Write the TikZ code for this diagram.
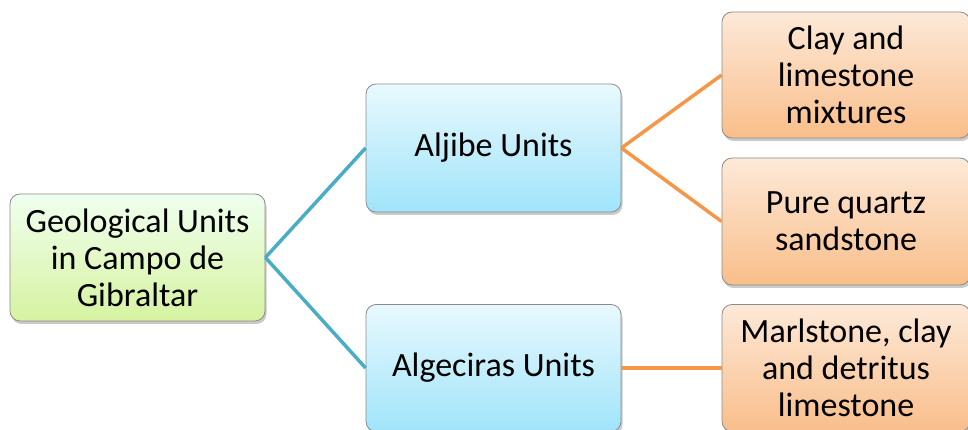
\documentclass[tikz,border=0pt]{standalone}
\usepackage{fontspec}
\setmainfont{Carlito}
\usetikzlibrary{shadows}
\definecolor{lineblue}{HTML}{4BACC6}
\definecolor{lineorange}{HTML}{F79646}
\definecolor{boxborder}{HTML}{8C8C8C}
\tikzset{
  box/.style={draw=boxborder, line width=0.8pt, rounded corners=10pt, align=center,
    font=\fontsize{34}{37}\selectfont, inner sep=0pt,
    drop shadow={shadow xshift=1.5pt, shadow yshift=-3pt, opacity=0.35, fill=black!60}},
  greenbox/.style={box, top color=green!6!white, bottom color={rgb,255:red,214;green,243;blue,160}},
  bluebox/.style={box, top color={rgb,255:red,232;green,249;blue,254}, bottom color={rgb,255:red,160;green,228;blue,250}},
  orangebox/.style={box, top color={rgb,255:red,253;green,233;blue,216}, bottom color={rgb,255:red,249;green,190;blue,138}},
  bluelink/.style={draw=lineblue, line width=3.5pt},
  orangelink/.style={draw=lineorange, line width=3.5pt}
}
\begin{document}
\begin{tikzpicture}[x=1pt,y=1pt]
\useasboundingbox (0,0) rectangle (968,430);
\begin{scope}
\clip (0,0) rectangle (968,430);
\node[greenbox, minimum width=255pt, minimum height=127pt] (root) at (137.5,172.5) {Geological Units\\in Campo de\\Gibraltar};
\node[bluebox, minimum width=255pt, minimum height=128pt] (aljibe) at (493.5,282) {Aljibe Units};
\node[bluebox, minimum width=255pt, minimum height=127pt] (alge) at (493.5,62) {Algeciras Units};
\node[orangebox, minimum width=248pt, minimum height=126pt] (clay) at (846,355) {Clay and\\limestone\\mixtures};
\node[orangebox, minimum width=248pt, minimum height=127pt] (pure) at (846,208.5) {Pure quartz\\sandstone};
\node[orangebox, minimum width=248pt, minimum height=127pt] (marl) at (846,62) {Marlstone, clay\\and detritus\\limestone};
\draw[bluelink] (root.east) -- (aljibe.west);
\draw[bluelink] (root.east) -- (alge.west);
\draw[orangelink] (aljibe.east) -- (clay.west);
\draw[orangelink] (aljibe.east) -- (pure.west);
\draw[orangelink] (alge.east) -- (marl.west);
\end{scope}
\end{tikzpicture}
\end{document}
